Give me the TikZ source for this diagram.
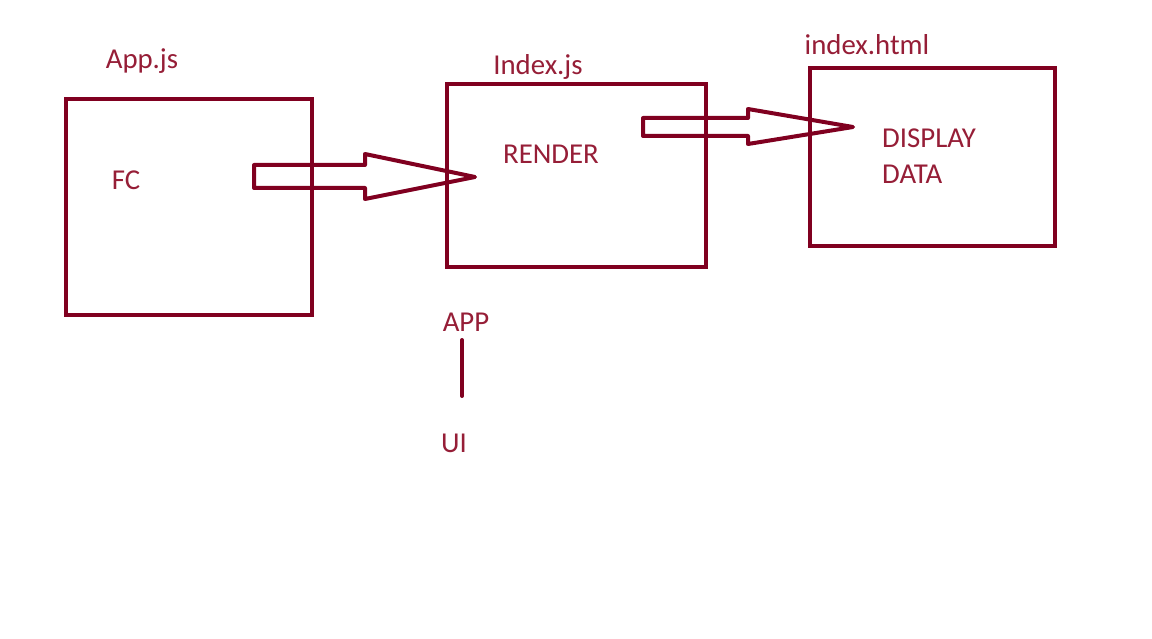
\documentclass[tikz,border=0pt]{standalone}
\usepackage{fontspec}
\setmainfont{Carlito}
\definecolor{linecol}{RGB}{128,0,32}
\definecolor{txtcol}{RGB}{150,30,55}
\begin{document}
\begin{tikzpicture}[x=1pt,y=-1pt,
  box/.style={draw=linecol,line width=4.5pt},
  lbl/.style={text=txtcol,font=\fontsize{28.8}{32}\selectfont,inner sep=0pt,anchor=base},
  lblw/.style={lbl,anchor=base west},
  arr/.style={draw=linecol,line width=4pt,line join=round}]
\useasboundingbox[fill=white] (0,0) rectangle (1152,639);
\draw[box] (66,99) rectangle (312,315);
\draw[box] (447,84) rectangle (706,267);
\draw[box] (810,68) rectangle (1055,246);
\node[lbl] (appjs) at (142,69) {App.js};
\node[lbl] (indexjs) at (538,75) {Index.js};
\node[lbl] (indexhtml) at (867,55) {index.html};
\node[lbl] (fc) at (126,190) {FC};
\node[lbl] (render) at (551,164) {RENDER};
\node[lblw] (display) at (882,148) {DISPLAY};
\node[lblw] (data) at (882,184) {DATA};
\node[lbl] (app) at (466,331) {APP};
\node[lbl] (ui) at (454,452) {UI};
\draw[arr] (254,165) -- (365,165) -- (365,154) -- (475,177) -- (365,199) -- (365,188) -- (254,188) -- cycle;
\draw[arr] (643,118) -- (748,118) -- (748,109) -- (853,127) -- (748,144) -- (748,136) -- (643,136) -- cycle;
\coordinate (ltop) at (462,340);
\coordinate (lbot) at (462,396);
\draw[draw=linecol,line width=4pt,line cap=round] (ltop) -- (lbot);
\end{tikzpicture}
\end{document}
